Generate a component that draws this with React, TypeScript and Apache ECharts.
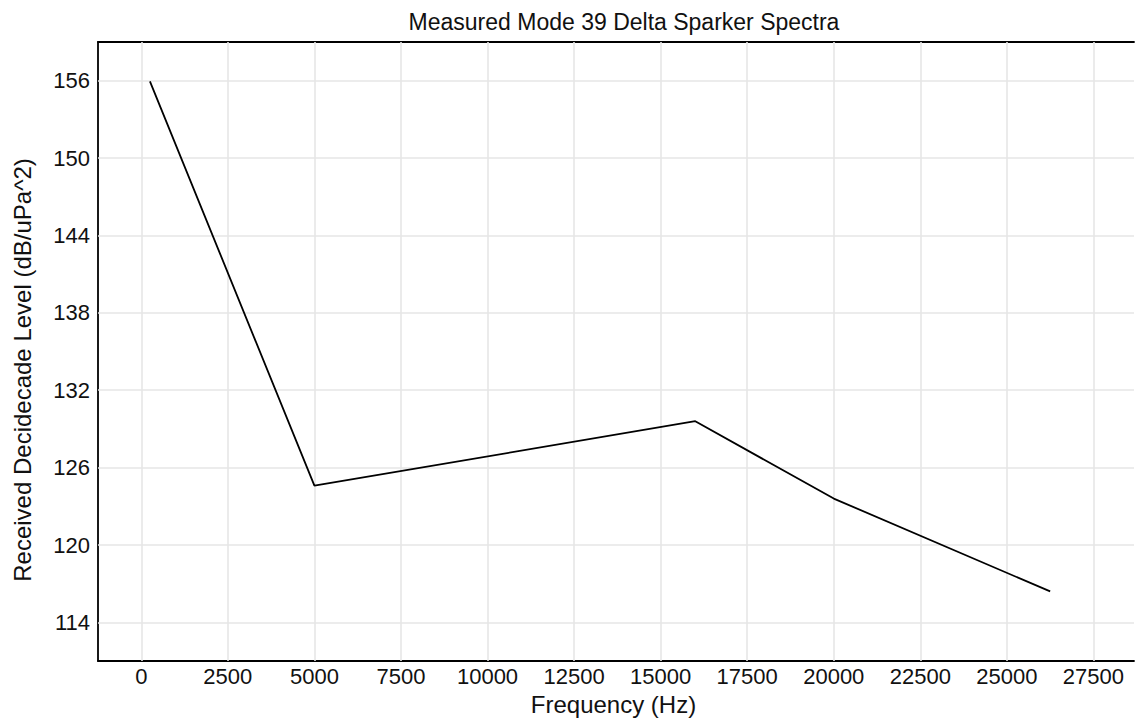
import React, { useEffect, useRef } from "react";
import * as echarts from "echarts";

const frequencies = [250, 5000, 16000, 20000, 26250];
const levels = [155.95, 124.6, 129.6, 123.6, 116.4];
const xTickValues = [0, 2500, 5000, 7500, 10000, 12500, 15000, 17500, 20000, 22500, 25000, 27500];
const yTickValues = [114, 120, 126, 132, 138, 144, 150, 156];

const TITLE = "Measured Mode 39 Delta Sparker Spectra";
const X_NAME = "Frequency (Hz)";
const Y_NAME = "Received Decidecade Level (dB/uPa^2)";

export default function App() {
  const ref = useRef<HTMLDivElement>(null);
  useEffect(() => {
    document.body.style.margin = "0";
    if (!ref.current) return;
    const chart = echarts.init(ref.current, undefined, { renderer: "svg" });
    const font = "'Liberation Sans', Arial, sans-serif";
    const textColor = "#111";
    const grid = "#e6e6e6";
    chart.setOption({
      animation: false,
      backgroundColor: "#fff",
      title: {
        text: TITLE,
        left: 619,
        top: 5,
        textAlign: "center",
        textStyle: { fontFamily: font, fontSize: 23, fontWeight: "normal", color: textColor },
      },
      graphic: [
        {
          type: "text",
          x: 22,
          y: 370,
          rotation: Math.PI / 2,
          silent: true,
          style: {
            text: Y_NAME,
            fontFamily: font,
            fontSize: 24,
            fill: textColor,
            align: "center",
            verticalAlign: "middle",
          },
        },
      ],
      grid: { left: 98, right: -3, top: 42, bottom: 51, containLabel: false },
      xAxis: [
        {
          type: "value",
          min: -1250,
          max: 28671,
          interval: 1250,
          name: X_NAME,
          nameLocation: "middle",
          nameGap: 24,
          nameTextStyle: { fontFamily: font, fontSize: 24, color: textColor, padding: [0, 5, 0, 0] },
          axisLine: { show: true, onZero: false, lineStyle: { color: "#000", width: 1.8 } },
          axisTick: { show: false },
          splitLine: { show: false },
          axisLabel: {
            fontFamily: font,
            fontSize: 22,
            color: textColor,
            margin: 4,
            formatter: (v: number) => (xTickValues.indexOf(v) >= 0 ? String(v) : ""),
          },
        },
        {
          type: "value",
          position: "top",
          min: -1250,
          max: 28671,
          axisLine: { show: true, onZero: false, lineStyle: { color: "#000", width: 1.8 } },
          axisTick: { show: false },
          axisLabel: { show: false },
          splitLine: { show: false },
        },
      ],
      yAxis: {
        type: "value",
        min: 111,
        max: 159,
        interval: 3,
        axisLine: { show: true, onZero: false, lineStyle: { color: "#000", width: 1.8 } },
        axisTick: { show: false },
        splitLine: { show: false },
        axisLabel: {
          fontFamily: font,
          fontSize: 22,
          color: textColor,
          margin: 8,
          formatter: (v: number) => (yTickValues.indexOf(v) >= 0 ? String(v) : ""),
        },
      },
      series: [
        {
          type: "line",
          data: frequencies.map((f, i) => [f, levels[i]]),
          symbol: "none",
          z: 3,
          lineStyle: { color: "#000", width: 1.8 },
          markLine: {
            silent: true,
            z: 1,
            symbol: ["none", "none"],
            label: { show: false },
            lineStyle: { color: grid, width: 1.6, type: "solid" },
            emphasis: { disabled: true },
            data: [
              ...xTickValues.map((v) => ({ xAxis: v })),
              ...yTickValues.map((v) => ({ yAxis: v })),
            ],
          },
        },
      ],
    });
    return () => chart.dispose();
  }, []);
  return <div ref={ref} style={{ width: 1137, height: 721 }} />;
}
